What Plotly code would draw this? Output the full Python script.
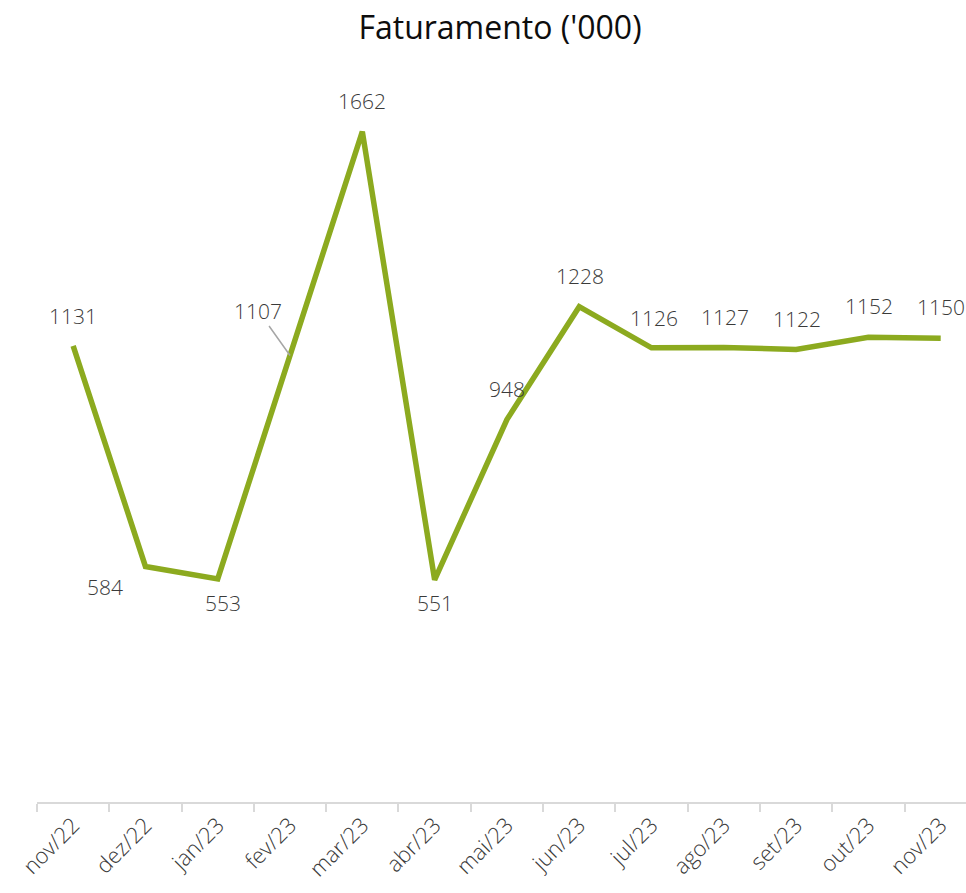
import plotly.graph_objects as go

months = ["nov/22", "dez/22", "jan/23", "fev/23", "mar/23", "abr/23", "mai/23",
          "jun/23", "jul/23", "ago/23", "set/23", "out/23", "nov/23"]
faturamento = [1131, 584, 553, 1107, 1662, 551, 948, 1228, 1126, 1127, 1122, 1152, 1150]
title_text = "Faturamento ('000)"

# label offsets in pixels (x, y) relative to each point; None => leader line label
label_offsets = [(0, 30), (-40, -21), (5, -24), None, (0, 31), (0, -23), (0, 31),
                 (1, 31), (2, 30), (1, 30), (1, 30), (1, 31), (0, 31)]

FONT = "Open Sans"
LINE = "#8CAA1F"
TXT = "#3a3a3a"
W, H = 966, 893

fig = go.Figure()
fig.add_trace(go.Scatter(
    x=months, y=faturamento, mode="lines",
    line=dict(color=LINE, width=5.5, shape="linear"),
    hoverinfo="x+y", showlegend=False,
))

annotations = []
for m, v, off in zip(months, faturamento, label_offsets):
    if off is None:
        annotations.append(dict(
            x=m, y=v, xref="x", yref="y", text=str(v), showarrow=True,
            ax=-32, ay=-45, arrowhead=0, arrowwidth=1.5, arrowcolor="#A6A6A6",
            standoff=0, font=dict(family=FONT, size=21, color=TXT, weight=300),
        ))
    else:
        annotations.append(dict(
            x=m, y=v, xref="x", yref="y", text=str(v), showarrow=False,
            xshift=off[0], yshift=off[1],
            font=dict(family=FONT, size=21, color=TXT, weight=300),
        ))

fig.update_layout(
    width=W, height=H,
    margin=dict(l=37, r=0, t=76, b=91, autoexpand=False),
    paper_bgcolor="white", plot_bgcolor="white",
    title=dict(text=title_text, x=500 / W, xanchor="center", y=1 - 28 / H,
               yanchor="middle", font=dict(family=FONT, size=32, color="#0d0d0d")),
    xaxis=dict(
        type="category", range=[-0.5, 12.35], showgrid=False, zeroline=False,
        showline=True, linecolor="#D9D9D9", linewidth=1.5,
        ticks="outside", tickson="boundaries", ticklen=8, tickcolor="#D9D9D9", tickwidth=1.5,
        tickangle=-45, tickfont=dict(family=FONT, size=22, color=TXT, weight=300),
        fixedrange=True,
    ),
    yaxis=dict(range=[0, 1800], visible=False, showgrid=False, zeroline=False, fixedrange=True),
    annotations=annotations,
)

fig.write_html(
    "out.html",
    config={"displayModeBar": False},
    post_script="document.body.style.margin='0';document.body.style.overflow='hidden';",
)
